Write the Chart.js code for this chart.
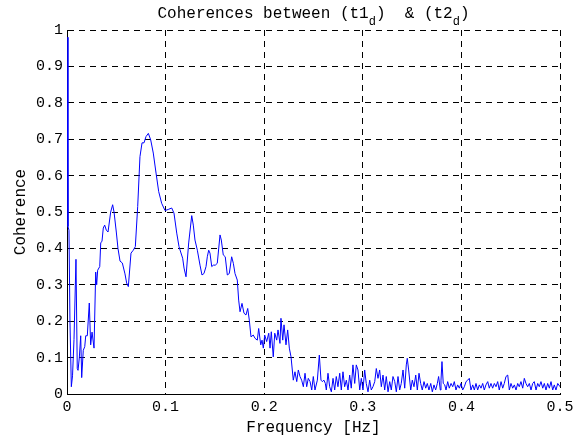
<!DOCTYPE html>
<html lang="en">
<head>
    <meta charset="UTF-8">
    <title>Coherences</title>
    <script src="https://cdn.jsdelivr.net/npm/chart.js"></script>
    <style>
        body { margin: 0; background: #ffffff; }
        #wrap { width: 582px; height: 438px; position: relative; }
    </style>
</head>
<body>
<div id="wrap"><canvas id="cohChart" width="582" height="438"></canvas></div>
<script>
    // frequency (Hz) and coherence
    const freq = [
        0, 0.001, 0.002, 0.003, 0.0044, 0.0056, 0.0071, 0.0091, 0.0104, 0.0112,
        0.0125, 0.0139, 0.0149, 0.0165, 0.018, 0.019, 0.0206, 0.0226, 0.024, 0.0254,
        0.0274, 0.0291, 0.0301, 0.0311, 0.0332, 0.0342, 0.0355, 0.0368, 0.0382, 0.0399,
        0.0416, 0.0443, 0.0463, 0.0477, 0.05, 0.0517, 0.0538, 0.0561, 0.0588, 0.0605,
        0.0622, 0.0649, 0.0672, 0.0693, 0.0717, 0.074, 0.0761, 0.0781, 0.0801, 0.0825,
        0.0849, 0.0875, 0.0903, 0.093, 0.096, 0.0994, 0.1027, 0.1062, 0.1085, 0.1113,
        0.1136, 0.1153, 0.1173, 0.1187, 0.1207, 0.1234, 0.1265, 0.1281, 0.1298, 0.1322,
        0.1349, 0.1369, 0.1389, 0.141, 0.1423, 0.1437, 0.145, 0.1468, 0.1484, 0.1504,
        0.1524, 0.1552, 0.1565, 0.1585, 0.1605, 0.1626, 0.1646, 0.167, 0.1687, 0.1704,
        0.1727, 0.1741, 0.1755, 0.1775, 0.1795, 0.1815, 0.1833, 0.1849, 0.1866, 0.1889,
        0.1907, 0.193, 0.1944, 0.1965, 0.1978, 0.1991, 0.2005, 0.2025, 0.2046, 0.2059,
        0.2072, 0.2092, 0.2107, 0.2127, 0.214, 0.216, 0.217, 0.2188, 0.2201, 0.2221,
        0.2238, 0.2255, 0.2272, 0.2295, 0.2312, 0.233, 0.2346, 0.2363, 0.238, 0.2397,
        0.2414, 0.2431, 0.2447, 0.2465, 0.2482, 0.2498, 0.2515, 0.2539, 0.2559, 0.2576,
        0.2589, 0.2606, 0.262, 0.263, 0.2647, 0.2664, 0.2681, 0.2698, 0.2715, 0.2731,
        0.2748, 0.2766, 0.2782, 0.2799, 0.2816, 0.2833, 0.285, 0.2867, 0.2883, 0.29,
        0.2918, 0.2934, 0.2951, 0.2969, 0.2985, 0.3002, 0.3019, 0.3035, 0.3053, 0.307,
        0.3086, 0.3103, 0.3121, 0.3137, 0.3154, 0.3171, 0.3188, 0.3205, 0.3222, 0.3238,
        0.3256, 0.3273, 0.3289, 0.3306, 0.3324, 0.334, 0.3357, 0.3374, 0.339, 0.3408,
        0.3425, 0.3441, 0.3451, 0.3465, 0.3486, 0.3502, 0.3519, 0.3537, 0.3553, 0.357,
        0.3587, 0.3603, 0.3621, 0.3638, 0.3654, 0.3671, 0.3689, 0.3705, 0.3722, 0.3739,
        0.3756, 0.3769, 0.3786, 0.3793, 0.3803, 0.3816, 0.3831, 0.3844, 0.3861, 0.3877,
        0.3895, 0.3912, 0.3928, 0.3945, 0.3962, 0.3979, 0.3996, 0.4013, 0.403, 0.4047,
        0.4064, 0.408, 0.4097, 0.4115, 0.4131, 0.4148, 0.4165, 0.4182, 0.4199, 0.4216,
        0.4232, 0.4249, 0.4267, 0.4283, 0.43, 0.4317, 0.4334, 0.4351, 0.4368, 0.4384,
        0.4402, 0.4419, 0.4435, 0.4452, 0.447, 0.4486, 0.4503, 0.452, 0.4537, 0.4554,
        0.4571, 0.4587, 0.4604, 0.4622, 0.4638, 0.4655, 0.4672, 0.4689, 0.4706, 0.4723,
        0.4739, 0.4757, 0.4774, 0.479, 0.4807, 0.4825, 0.4841, 0.4858, 0.4875, 0.4892,
        0.4909, 0.4926, 0.4942, 0.4959, 0.4977, 0.5
    ];
    const coherence = [
        0.98, 0.46, 0.45, 0.20, 0.02, 0.05, 0.15, 0.37, 0.07, 0.065,
        0.10, 0.16, 0.045, 0.12, 0.13, 0.16, 0.16, 0.25, 0.135, 0.17,
        0.126, 0.335, 0.30, 0.34, 0.35, 0.415, 0.42, 0.456, 0.464, 0.45,
        0.445, 0.50, 0.52, 0.50, 0.445, 0.40, 0.365, 0.36, 0.33, 0.305,
        0.295, 0.387, 0.395, 0.405, 0.515, 0.652, 0.69, 0.69, 0.707, 0.716,
        0.698, 0.662, 0.607, 0.556, 0.524, 0.504, 0.507, 0.511, 0.497, 0.442,
        0.405, 0.39, 0.373, 0.346, 0.322, 0.415, 0.49, 0.464, 0.423, 0.395,
        0.354, 0.327, 0.331, 0.35, 0.377, 0.395, 0.387, 0.35, 0.354, 0.354,
        0.359, 0.437, 0.423, 0.382, 0.377, 0.327, 0.331, 0.377, 0.359, 0.331,
        0.313, 0.258, 0.226, 0.249, 0.222, 0.217, 0.235, 0.203, 0.157, 0.162,
        0.153, 0.148, 0.18, 0.135, 0.148, 0.126, 0.162, 0.144, 0.167, 0.126,
        0.171, 0.102, 0.167, 0.148, 0.176, 0.139, 0.208, 0.148, 0.19, 0.135,
        0.176, 0.126, 0.102, 0.038, 0.061, 0.034, 0.066, 0.048, 0.038, 0.02,
        0.057, 0.02, 0.043, 0.034, 0.011, 0.048, 0.011, 0.038, 0.107, 0.038,
        0.034, 0.038, 0.029, 0.011, 0.057, 0.02, 0.006, 0.043, 0.011, 0.048,
        0.02, 0.057, 0.011, 0.061, 0.02, 0.038, 0.011, 0.052, 0.016, 0.08,
        0.029, 0.08, 0.066, 0.011, 0.043, 0.011, 0.066, 0.029, 0.006, 0.038,
        0.011, 0.02, 0.034, 0.07, 0.043, 0.066, 0.02, 0.052, 0.011, 0.048,
        0.006, 0.034, 0.011, 0.048, 0.034, 0.006, 0.048, 0.011, 0.029, 0.066,
        0.016, 0.08, 0.098, 0.066, 0.011, 0.038, 0.02, 0.052, 0.011, 0.057,
        0.029, 0.011, 0.034, 0.016, 0.029, 0.011, 0.029, 0.006, 0.025, 0.011,
        0.029, 0.048, 0.011, 0.038, 0.089, 0.029, 0.025, 0.011, 0.034, 0.016,
        0.029, 0.02, 0.034, 0.011, 0.025, 0.016, 0.029, 0.011, 0.02, 0.034,
        0.038, 0.043, 0.011, 0.025, 0.011, 0.029, 0.011, 0.025, 0.016, 0.029,
        0.011, 0.025, 0.034, 0.016, 0.029, 0.016, 0.029, 0.02, 0.034, 0.011,
        0.034, 0.016, 0.029, 0.048, 0.052, 0.011, 0.029, 0.016, 0.025, 0.011,
        0.029, 0.02, 0.034, 0.016, 0.043, 0.029, 0.02, 0.029, 0.011, 0.029,
        0.034, 0.011, 0.029, 0.02, 0.034, 0.016, 0.029, 0.011, 0.029, 0.016,
        0.034, 0.011, 0.025, 0.011, 0.029, 0.02
    ];

    const xTicks = [0, 0.1, 0.2, 0.3, 0.4, 0.5];
    const yTicks = [0, 0.1, 0.2, 0.3, 0.4, 0.5, 0.6, 0.7, 0.8, 0.9, 1];

    const monoFont = '"Courier New", "Liberation Mono", monospace';

    // matlab style labels: 0, 0.1, ..., 1
    function tickLabel(v) {
        return String(Math.round(v * 10) / 10);
    }

    // title with subscripts and axis titles, drawn by hand
    const textPlugin = {
        id: 'textPlugin',
        afterDraw(chart) {
            const ctx = chart.ctx;
            const area = chart.chartArea;
            const cx = (area.left + area.right) / 2;
            ctx.save();
            ctx.fillStyle = '#000';
            ctx.textBaseline = 'alphabetic';

            // title pieces: [text, isSubscript]
            const parts = [['Coherences between (t1', false], ['d', true], [')  & (t2', false], ['d', true], [')', false]];
            const bigFont = '16px ' + monoFont;
            const smallFont = '12px ' + monoFont;
            let total = 0;
            parts.forEach(p => {
                ctx.font = p[1] ? smallFont : bigFont;
                total += ctx.measureText(p[0]).width;
            });
            let x = cx - total / 2;
            ctx.textAlign = 'left';
            parts.forEach(p => {
                ctx.font = p[1] ? smallFont : bigFont;
                ctx.fillText(p[0], x, p[1] ? 25 : 18);
                x += ctx.measureText(p[0]).width;
            });

            // x axis title
            ctx.font = bigFont;
            ctx.textAlign = 'center';
            ctx.fillText('Frequency [Hz]', cx, 432);

            // y axis title
            ctx.translate(25, (area.top + area.bottom) / 2);
            ctx.rotate(-Math.PI / 2);
            ctx.fillText('Coherence', 0, 0);
            ctx.restore();
        }
    };

    const ctx = document.getElementById('cohChart').getContext('2d');
    new Chart(ctx, {
        type: 'line',
        data: {
            datasets: [{
                data: freq.map((f, i) => ({ x: f, y: coherence[i] })),
                borderColor: '#0000ff',
                borderWidth: 1,
                pointRadius: 0,
                tension: 0,
                fill: false
            }]
        },
        options: {
            responsive: false,
            animation: false,
            layout: { padding: { top: 30, right: 22, left: 0, bottom: 0 } },
            plugins: {
                legend: { display: false },
                tooltip: { enabled: false }
            },
            scales: {
                x: {
                    type: 'linear',
                    min: 0,
                    max: 0.5,
                    afterFit: (scale) => { scale.height = 44; },
                    afterBuildTicks: (scale) => { scale.ticks = xTicks.map(v => ({ value: v })); },
                    grid: { color: '#000', lineWidth: 1, drawTicks: false },
                    border: { display: true, color: '#000', width: 1, dash: [6, 5] },
                    ticks: {
                        padding: 4,
                        color: '#000',
                        font: { family: monoFont, size: 15 },
                        maxRotation: 0,
                        callback: tickLabel
                    }
                },
                y: {
                    min: 0,
                    max: 1,
                    afterFit: (scale) => { scale.width = 67; },
                    afterBuildTicks: (scale) => { scale.ticks = yTicks.map(v => ({ value: v })); },
                    grid: { color: '#000', lineWidth: 1, drawTicks: false },
                    border: { display: true, color: '#000', width: 1, dash: [6, 5] },
                    ticks: {
                        padding: 4,
                        color: '#000',
                        font: { family: monoFont, size: 15 },
                        callback: tickLabel
                    }
                }
            }
        },
        plugins: [textPlugin]
    });
</script>
</body>
</html>
